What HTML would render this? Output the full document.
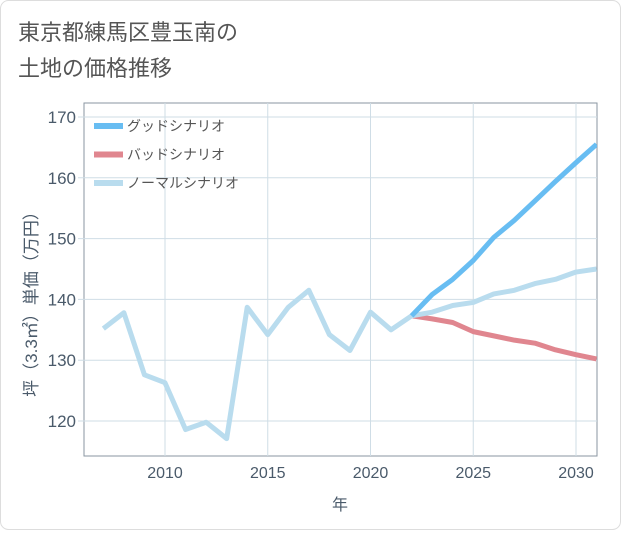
<!DOCTYPE html>
<html><head><meta charset="utf-8"><style>
body{margin:0;background:#fff;}
svg text{font-family:"Liberation Sans","Noto Sans CJK JP",sans-serif;}
</style></head><body>
<svg width="621" height="530" xmlns="http://www.w3.org/2000/svg">
<rect x="0.5" y="0.5" width="620" height="529" rx="8" fill="#fff" stroke="#ddd"/>
<text x="18" y="40" font-size="22" fill="#555">東京都練馬区豊玉南の</text>
<text x="18" y="76" font-size="22" fill="#555">土地の価格推移</text>
<g id="plot"></g>
</svg>
<script>
const histYears=[2007,2008,2009,2010,2011,2012,2013,2014,2015,2016,2017,2018,2019,2020,2021,2022];
const histValues=[135.2,137.8,127.6,126.3,118.6,119.8,117.1,138.7,134.2,138.7,141.5,134.2,131.6,137.9,135.0,137.3];
const futYears=[2022,2023,2024,2025,2026,2027,2028,2029,2030,2031];
const goodValues=[137.3,140.8,143.3,146.4,150.2,153.0,156.2,159.4,162.5,165.5];
const badValues=[137.3,136.8,136.2,134.7,134.0,133.3,132.8,131.7,130.9,130.2];
const normalValues=[137.3,137.9,139.0,139.5,140.9,141.5,142.6,143.3,144.5,145.0];
const xTicks=[2010,2015,2020,2025,2030];
const yTicks=[120,130,140,150,160,170];
const L=84,R=597,T=103,B=456;
const x=v=>165+(v-2010)*20.55;
const y=v=>421-(v-120)*6.08;
const ns="http://www.w3.org/2000/svg";
const g=document.getElementById('plot');
function mk(t,a,p){const e=document.createElementNS(ns,t);for(const k in a)e.setAttribute(k,a[k]);(p||g).appendChild(e);return e;}
let e=mk('rect',{x:L,y:T,width:R-L,height:B-T,fill:'#fff',stroke:'#8a96a0','stroke-width':1});


xTicks.forEach(t=>{
 let l=mk('line',{x1:x(t),x2:x(t),y1:T,y2:B,stroke:'#cfdde6'});
 
 
 let tx=mk('text',{x:x(t),y:B+22,'font-size':16,fill:'#4a5a6a','text-anchor':'middle'});
 tx.textContent=t;
 
 
});
yTicks.forEach(t=>{
 let l=mk('line',{x1:L-6,x2:R,y1:y(t),y2:y(t),stroke:'#cfdde6'});
 
 
 let tx=mk('text',{x:L-8,y:y(t)+6,'font-size':17,fill:'#4a5a6a','text-anchor':'end'});
 tx.textContent=t;
 
 
});
let xt=mk('text',{x:340,y:510,'font-size':16,fill:'#4a5a6a','text-anchor':'middle'});
xt.textContent='年';


let yt=mk('text',{x:0,y:0,'font-size':17,fill:'#4a5a6a','text-anchor':'middle',transform:'translate(37,300) rotate(-90)'});
yt.textContent='坪（3.3㎡）単価（万円）';


const clip=mk('clipPath',{id:'c'});mk('rect',{x:L,y:T,width:R-L,height:B-T},clip);
function line(xs,vs,col,name){
 const p=mk('polyline',{points:xs.map((t,i)=>x(t)+','+y(vs[i])).join(' '),fill:'none',stroke:col,'stroke-width':5,'stroke-linejoin':'round','clip-path':'url(#c)'});
 
 
}
line(futYears,badValues,'#e0868f','bad-scenario-line');
line(futYears,normalValues,'#b9dcee','normal-scenario-line');
line(histYears,histValues,'#b9dcee','history-line');
line(futYears,goodValues,'#68bdf2','good-scenario-line');
[['グッドシナリオ','#68bdf2'],['バッドシナリオ','#e0868f'],['ノーマルシナリオ','#b9dcee']].forEach((d,i)=>{
 const yy=126+i*28.5;
 let r=mk('rect',{x:94,y:yy-3,width:29,height:6,fill:d[1]});
 
 
 let tx=mk('text',{x:127,y:yy+5,'font-size':14,fill:'#555'});
 tx.textContent=d[0];
 
 
});
</script>
</body></html>
